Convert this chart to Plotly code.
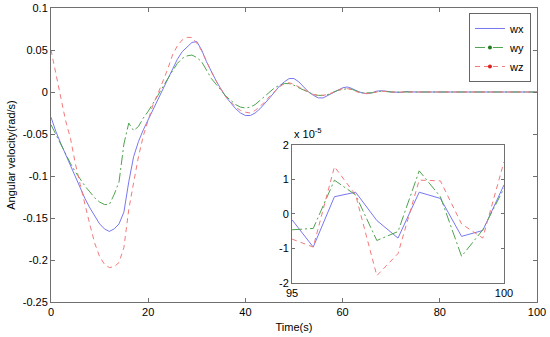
import plotly.graph_objects as go

# ---------------- main plot data ----------------
t_wx = [0,1,2,3,4,5,6,7,8,9,10,11,12,13,14,15,16,17,18,19,20,21,22,23,24,25,26,27,28,29,30,31,32,33,34,35,36,37,38,39,40,41,42,43,44,45,46,47,48,49,50,51,52,53,54,55,56,57,58,59,60,61,62,63,64,65,66,67,68,69,70,72,73,75,100]
wx = [-0.030,-0.047,-0.061,-0.074,-0.089,-0.102,-0.115,-0.127,-0.138,-0.148,-0.157,-0.163,-0.166,-0.163,-0.157,-0.143,-0.107,-0.077,-0.059,-0.045,-0.033,-0.020,-0.008,0.004,0.015,0.027,0.039,0.048,0.054,0.059,0.060,0.050,0.036,0.024,0.013,0.003,-0.006,-0.013,-0.020,-0.025,-0.028,-0.028,-0.025,-0.020,-0.014,-0.007,0.000,0.007,0.012,0.016,0.016,0.012,0.006,0.000,-0.004,-0.007,-0.007,-0.004,-0.001,0.002,0.005,0.006,0.004,0.001,-0.001,-0.002,-0.001,0.001,0.0015,0.001,0.000,-0.0005,0.0005,0.0,0.0]

t_wy = [0,1,2,3,4,5,6,7,8,9,10,11,12,13,14,15,16,17,18,19,20,21,22,23,24,25,26,27,28,29,30,31,32,33,34,35,36,37,38,39,40,41,42,43,44,45,46,47,48,49,50,51,52,53,54,55,56,57,58,59,60,61,62,63,64,65,66,67,68,70,100]
wy = [-0.039,-0.051,-0.063,-0.075,-0.085,-0.095,-0.104,-0.112,-0.119,-0.126,-0.131,-0.134,-0.134,-0.122,-0.107,-0.062,-0.037,-0.046,-0.041,-0.031,-0.023,-0.014,-0.004,0.006,0.016,0.025,0.034,0.040,0.043,0.044,0.041,0.036,0.026,0.016,0.009,0.002,-0.005,-0.010,-0.015,-0.018,-0.019,-0.018,-0.015,-0.010,-0.005,0.001,0.005,0.008,0.010,0.010,0.008,0.005,0.002,-0.001,-0.003,-0.004,-0.004,-0.003,0.000,0.002,0.003,0.004,0.003,0.001,-0.001,-0.001,-0.001,0.000,0.001,0.0,0.0]

t_wz = [0,1,2,3,4,5,6,7,8,9,10,11,12,13,14,15,16,17,18,19,20,21,22,23,24,25,26,27,28,29,30,31,32,33,34,35,36,37,38,39,40,41,42,43,44,45,46,47,48,49,50,51,52,53,54,55,56,57,58,59,60,61,62,63,64,65,66,67,68,70,100]
wz = [0.050,0.022,-0.008,-0.034,-0.055,-0.085,-0.110,-0.135,-0.158,-0.180,-0.196,-0.205,-0.209,-0.208,-0.203,-0.185,-0.140,-0.108,-0.077,-0.052,-0.032,-0.015,-0.002,0.012,0.027,0.044,0.055,0.062,0.065,0.065,0.058,0.049,0.036,0.024,0.013,0.003,-0.006,-0.012,-0.018,-0.022,-0.024,-0.025,-0.022,-0.017,-0.012,-0.005,0.001,0.006,0.010,0.011,0.009,0.006,0.003,0.000,-0.003,-0.004,-0.004,-0.003,0.000,0.002,0.004,0.004,0.003,0.000,-0.001,-0.002,-0.001,0.000,0.001,0.0,0.0]

# ---------------- inset data (x 1e-5) ----------------
t_in = [95,95.5,96,96.5,97,97.5,98,98.5,99,99.5,100]
wx_in = [-0.17,-0.96,0.50,0.63,-0.19,-0.70,0.63,0.45,-0.65,-0.48,0.84]
wy_in = [-0.46,-0.42,0.98,0.55,-0.77,-0.51,1.25,0.50,-1.23,-0.46,0.74]
wz_in = [-0.73,-0.96,1.37,0.55,-1.79,-1.15,0.98,0.96,-0.29,-0.70,1.51]

main_xticks = [0,20,40,60,80,100]
main_yticks = [-0.25,-0.2,-0.15,-0.1,-0.05,0,0.05,0.1]
main_yticktext = ["-0.25","-0.2","-0.15","-0.1","-0.05","0","0.05","0.1"]
inset_xticks = [95,100]
inset_yticks = [-2,-1,0,1,2]
inset_yticktext = ["-2","-1","0","1","2"]

BLUE = "#7878f0"
GREEN = "#4fa34f"
RED = "#f27a7a"
dash_y = "10px,3px,2px,3px"
dash_z = "5px,4px"

fig = go.Figure()
fig.add_trace(go.Scatter(x=t_wx, y=wx, mode="lines", line=dict(color=BLUE, width=1), showlegend=False))
fig.add_trace(go.Scatter(x=t_wy, y=wy, mode="lines", line=dict(color=GREEN, width=1, dash=dash_y), showlegend=False))
fig.add_trace(go.Scatter(x=t_wz, y=wz, mode="lines", line=dict(color=RED, width=1, dash=dash_z), showlegend=False))

fig.add_trace(go.Scatter(x=t_in, y=wx_in, mode="lines", line=dict(color=BLUE, width=1), showlegend=False, xaxis="x2", yaxis="y2"))
fig.add_trace(go.Scatter(x=t_in, y=wy_in, mode="lines", line=dict(color=GREEN, width=1, dash=dash_y), showlegend=False, xaxis="x2", yaxis="y2"))
fig.add_trace(go.Scatter(x=t_in, y=wz_in, mode="lines", line=dict(color=RED, width=1, dash=dash_z), showlegend=False, xaxis="x2", yaxis="y2"))

# legend entries
fig.add_trace(go.Scatter(x=[None], y=[None], mode="lines", name="wx", line=dict(color=BLUE, width=1)))
fig.add_trace(go.Scatter(x=[None], y=[None], mode="lines+markers", name="wy", line=dict(color=GREEN, width=1, dash=dash_y), marker=dict(size=4, color="#1f7f1f")))
fig.add_trace(go.Scatter(x=[None], y=[None], mode="lines+markers", name="wz", line=dict(color=RED, width=1, dash=dash_z), marker=dict(size=4, color="#e02020")))

AX = "#707070"
FONT = "Liberation Sans, Arial, sans-serif"
fig.update_layout(
    width=550, height=337,
    margin=dict(l=51, r=13, t=8, b=35),
    paper_bgcolor="white", plot_bgcolor="white",
    font=dict(family=FONT, size=11, color="black"),
    xaxis=dict(range=[0,100], tickvals=main_xticks, showgrid=False, zeroline=False, automargin=False,
               showline=True, linecolor=AX, linewidth=1, mirror="ticks",
               ticks="inside", ticklen=4, tickcolor=AX,
               title=dict(text="Time(s)", standoff=6, font=dict(size=11))),
    yaxis=dict(range=[-0.25,0.1], tickvals=main_yticks, ticktext=main_yticktext, showgrid=False, zeroline=False,
               automargin=False,
               showline=True, linecolor=AX, linewidth=1, mirror="ticks",
               ticks="inside", ticklen=4, tickcolor=AX,
               title=dict(text="Angular velocity(rad/s)", standoff=4, font=dict(size=11))),
    xaxis2=dict(domain=[0.496,0.932], anchor="y2", range=[95,100], tickvals=inset_xticks, automargin=False,
                showgrid=False, zeroline=False, showline=True, linecolor=AX, linewidth=1,
                mirror="ticks", ticks="inside", ticklen=3, tickcolor=AX),
    yaxis2=dict(domain=[0.065,0.534], anchor="x2", range=[-2,2], tickvals=inset_yticks, ticktext=inset_yticktext,
                automargin=False,
                showgrid=False, zeroline=False, showline=True, linecolor=AX, linewidth=1,
                mirror="ticks", ticks="inside", ticklen=3, tickcolor=AX),
    legend=dict(x=0.86, y=0.983, xanchor="left", yanchor="top", bgcolor="white",
                bordercolor="#666666", borderwidth=1, font=dict(size=11), tracegroupgap=0,
                itemwidth=30),
    annotations=[dict(text="x 10<sup>-5</sup>", xref="paper", yref="paper",
                      x=0.496, y=0.545, xanchor="left", yanchor="bottom", showarrow=False,
                      font=dict(size=11))],
)

fig.write_html("out.html", config={"displayModeBar": False},
               post_script="document.body.style.margin='0px';")
